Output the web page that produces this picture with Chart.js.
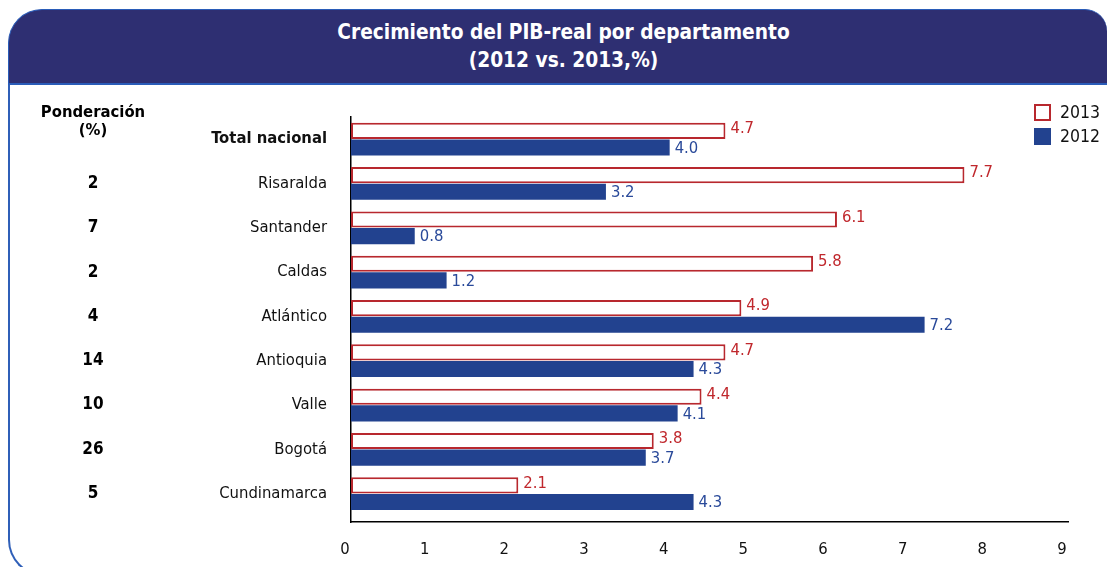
<!DOCTYPE html>
<html>
<head>
<meta charset="utf-8">
<script src="https://cdn.jsdelivr.net/npm/chart.js@4.4.1/dist/chart.umd.min.js"></script>
<style>
  html, body { margin: 0; padding: 0; background: #fff; }
  body { width: 1107px; height: 567px; position: relative; overflow: hidden; font-family: "DejaVu Sans Condensed", "DejaVu Sans", sans-serif; }
  .panel { position: absolute; left: 8px; top: 80px; width: 1200px; height: 494px; border-left: 2px solid #2f5fb8; border-bottom: 2px solid #2f5fb8; border-bottom-left-radius: 36px; }
  .header { position: absolute; left: 8px; top: 9px; width: 1098px; height: 73px; background: #2e2f72; border-top: 1px solid #2a5cb8; border-bottom: 2px solid #2a5cb8; border-left: 1px solid #2a5cb8; border-top-left-radius: 34px; border-top-right-radius: 22px; }
  .title { position: absolute; left: 0; top: 18px; width: 1127px; text-align: center; color: #fff; font-weight: bold; font-size: 20.7px; line-height: 28px; }
  canvas { position: absolute; left: 0; top: 0; }
</style>
</head>
<body>
<div class="panel"></div>
<div class="header"></div>
<div class="title">Crecimiento del PIB-real por departamento<br>(2012 vs. 2013,%)</div>
<canvas id="chart" width="1107" height="567"></canvas>
<script>
// Crecimiento del PIB-real por departamento (2012 vs 2013)
const departamentos = ['Total nacional', 'Risaralda', 'Santander', 'Caldas', 'Atlántico', 'Antioquia', 'Valle', 'Bogotá', 'Cundinamarca'];
const ponderacion = ['', '2', '7', '2', '4', '14', '10', '26', '5'];
const crec2013 = [4.7, 7.7, 6.1, 5.8, 4.9, 4.7, 4.4, 3.8, 2.1];
const crec2012 = [4.0, 3.2, 0.8, 1.2, 7.2, 4.3, 4.1, 3.7, 4.3];
const xTicks = [0, 1, 2, 3, 4, 5, 6, 7, 8, 9];

const RED = '#b8282e';
const BLUE = '#22428f';
const FONT = '"DejaVu Sans Condensed", "DejaVu Sans", sans-serif';

const toPoints = vals => vals.map((v, i) => ({ x: v, y: i }));

// value labels at bar ends, weights column and legend
const extras = {
  id: 'extras',
  afterDatasetsDraw(chart) {
    const ctx = chart.ctx;
    const y = chart.scales.y;
    ctx.save();
    ctx.font = '16.5px ' + FONT;
    ctx.textAlign = 'left';
    ctx.textBaseline = 'middle';
    chart.data.datasets.forEach((ds, di) => {
      const meta = chart.getDatasetMeta(di);
      ctx.fillStyle = ds.labelColor;
      meta.data.forEach((bar, i) => {
        ctx.fillText(ds.data[i].x.toFixed(1), bar.x + 5, bar.y + ds.labelShift);
      });
    });

    // Ponderación column
    ctx.fillStyle = '#000';
    ctx.textAlign = 'center';
    ctx.font = 'bold 16.5px ' + FONT;
    ctx.fillText('Ponderación', 93, 113);
    ctx.fillText('(%)', 93, 131);
    ctx.font = 'bold 17px ' + FONT;
    ponderacion.forEach((p, i) => {
      if (p) ctx.fillText(p, 93, y.getPixelForValue(i));
    });

    // legend
    const items = [
      { text: '2013', fill: '#fff', stroke: RED },
      { text: '2012', fill: BLUE, stroke: BLUE }
    ];
    ctx.textAlign = 'left';
    ctx.font = '17.5px ' + FONT;
    items.forEach((it, k) => {
      const top = 104 + k * 24;
      ctx.fillStyle = it.fill;
      ctx.fillRect(1034, top, 17, 17);
      ctx.strokeStyle = it.stroke;
      ctx.lineWidth = 2;
      ctx.strokeRect(1035, top + 1, 15, 15);
      ctx.fillStyle = '#111';
      ctx.fillText(it.text, 1060, top + 9);
    });
    ctx.restore();
  }
};

new Chart(document.getElementById('chart'), {
  type: 'bar',
  data: {
    datasets: [
      { label: '2013', data: toPoints(crec2013), backgroundColor: '#fff', borderColor: RED, borderWidth: 2, borderSkipped: false, labelColor: '#c0282d', labelShift: -2 },
      { label: '2012', data: toPoints(crec2012), backgroundColor: BLUE, borderWidth: 0, labelColor: '#2a4a9a', labelShift: 1 }
    ]
  },
  options: {
    indexAxis: 'y',
    responsive: false,
    animation: false,
    categoryPercentage: 0.75,
    barPercentage: 0.97,
    layout: { padding: { top: 117, right: 39, left: 0, bottom: 0 } },
    plugins: { legend: { display: false }, tooltip: { enabled: false } },
    scales: {
      x: {
        type: 'linear',
        min: 0, max: 9,
        afterBuildTicks: s => { s.ticks = xTicks.map(v => ({ value: v })); },
        afterFit: s => { s.height = 45; },
        grid: { display: false, drawTicks: false },
        border: { display: true, color: '#000', width: 1.5 },
        ticks: { color: '#111', font: { family: FONT, size: 16.5 }, padding: 18, labelOffset: -6 }
      },
      y: {
        type: 'linear',
        reverse: true,
        offset: false,
        min: -0.5, max: 8.64,
        afterBuildTicks: s => { s.ticks = departamentos.map((_, i) => ({ value: i })); },
        afterFit: s => { s.width = 351; },
        grid: { display: false, drawTicks: false, offset: false },
        border: { display: true, color: '#000', width: 1.5 },
        ticks: {
          color: '#111',
          padding: 24,
          callback: v => departamentos[v],
          font: c => c.index === 0
            ? { family: FONT, size: 16.5, weight: 'bold' }
            : { family: FONT, size: 16.5, weight: 'normal' }
        }
      }
    }
  },
  plugins: [extras]
});
</script>
</body>
</html>
